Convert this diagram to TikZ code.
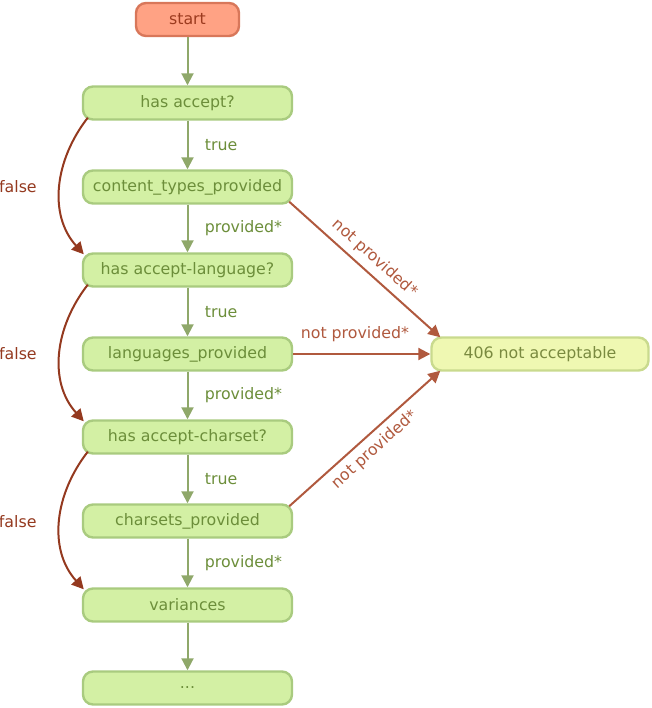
\documentclass[tikz,border=0pt]{standalone}
\usepackage{fontspec}
\setmainfont{DejaVu Sans}
\usetikzlibrary{arrows.meta}

\definecolor{startfill}{HTML}{FFA284}
\definecolor{startline}{HTML}{D8775A}
\definecolor{starttext}{HTML}{9C3B1F}
\definecolor{stepfill}{HTML}{D3F0A4}
\definecolor{stepline}{HTML}{A9CB7F}
\definecolor{steptext}{HTML}{6C8E3A}
\definecolor{endfill}{HTML}{EFF8B2}
\definecolor{endline}{HTML}{C9DA8E}
\definecolor{endtext}{HTML}{7A8A40}
\definecolor{okline}{HTML}{8FA86A}
\definecolor{failline}{HTML}{B0593E}
\definecolor{falseline}{HTML}{94391F}

\tikzset{
  every node/.style={font=\fontsize{15.8}{18}\selectfont},
  stepbox/.style={draw=stepline, fill=stepfill, text=steptext, line width=2.4pt,
    rounded corners=10pt, minimum width=209pt, minimum height=33pt, inner sep=0pt},
  startbox/.style={stepbox, draw=startline, fill=startfill, text=starttext, minimum width=103pt},
  endbox/.style={stepbox, draw=endline, fill=endfill, text=endtext, minimum width=217pt},
  okarrow/.style={draw=okline, line width=2pt, -{Triangle[length=12pt,width=12pt]}},
  failarrow/.style={draw=failline, line width=2pt, -{Triangle[length=12pt,width=12pt]}},
  falsearrow/.style={draw=falseline, line width=2pt, -{Triangle[length=12pt,width=12pt]}},
  oklabel/.style={text=steptext, right=13pt},
  faillabel/.style={text=failline},
}

\begin{document}
\begin{tikzpicture}[x=1pt, y=-1pt]
				\useasboundingbox (0,0) rectangle (651,708);

				% main column
				\node[startbox] (start) at (187.5,19.5) {start};
				\node[stepbox] (accept) at (187.5,103) {has accept?};
				\node[stepbox] (ctypes) at (187.5,187) {content\_types\_provided};
				\node[stepbox] (alang) at (187.5,270) {has accept-language?};
				\node[stepbox] (langs) at (187.5,354) {languages\_provided};
				\node[stepbox] (acharset) at (187.5,437) {has accept-charset?};
				\node[stepbox] (charsets) at (187.5,521) {charsets\_provided};
				\node[stepbox] (variances) at (187.5,605) {variances};
				\node[stepbox] (more) at (187.5,688) {...};
				\node[endbox] (notacc) at (540,354) {406 not acceptable};

				% straight down
				\draw[okarrow] (start) -- (accept);
				\draw[okarrow] (accept) -- node[oklabel] {true} (ctypes);
				\draw[okarrow] (ctypes) -- node[oklabel] {provided*} (alang);
				\draw[okarrow] (alang) -- node[oklabel] {true} (langs);
				\draw[okarrow] (langs) -- node[oklabel] {provided*} (acharset);
				\draw[okarrow] (acharset) -- node[oklabel] {true} (charsets);
				\draw[okarrow] (charsets) -- node[oklabel] {provided*} (variances);
				\draw[okarrow] (variances) -- (more);

				% false branches
				\draw[falsearrow] ([xshift=6pt,yshift=3pt]accept.south west) to[out=-128,in=132]
					node[left=19pt, text=falseline] {false} ([xshift=2pt,yshift=-2pt]alang.north west);
				\draw[falsearrow] ([xshift=6pt,yshift=3pt]alang.south west) to[out=-128,in=132]
					node[left=19pt, text=falseline] {false} ([xshift=2pt,yshift=-2pt]acharset.north west);
				\draw[falsearrow] ([xshift=6pt,yshift=3pt]acharset.south west) to[out=-128,in=132]
					node[left=19pt, text=falseline] {false} ([xshift=2pt,yshift=-2pt]variances.north west);

				% not provided
				\draw[failarrow] ([xshift=-4pt,yshift=3pt]ctypes.south east) -- node[faillabel, sloped, above=3pt] {not provided*} ([xshift=10pt,yshift=-1pt]notacc.north west);
				\draw[failarrow] (langs) -- node[faillabel, above=8pt, pos=0.45] {not provided*} (notacc);
				\draw[failarrow] ([xshift=-4pt,yshift=-3pt]charsets.north east) -- node[faillabel, sloped, below=3pt] {not provided*} ([xshift=10pt,yshift=1pt]notacc.south west);
			\end{tikzpicture}
\end{document}
